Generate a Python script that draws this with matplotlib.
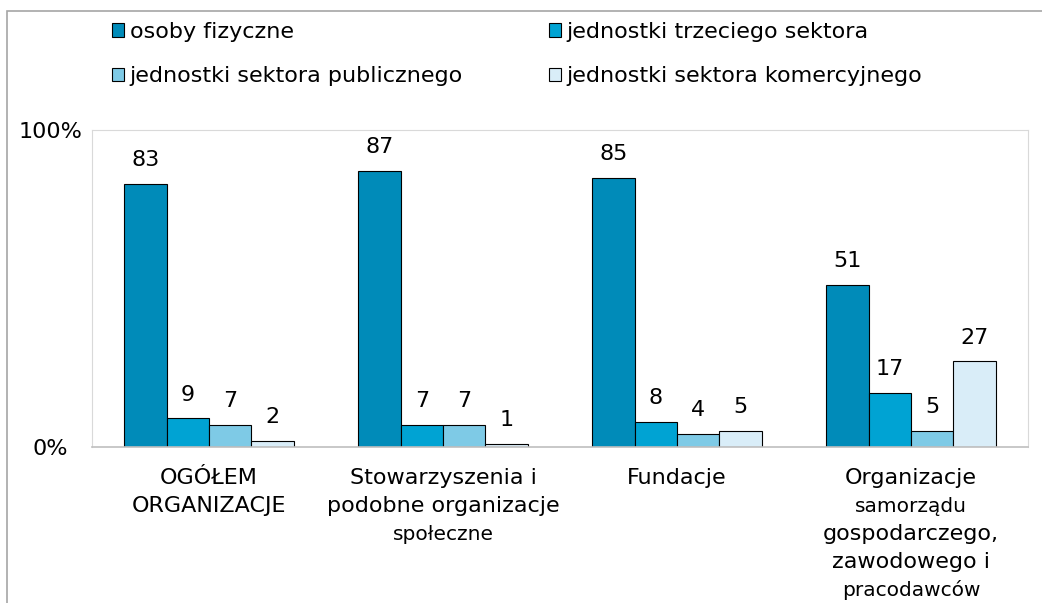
import matplotlib.pyplot as plt
import matplotlib.patches as mpatches
from matplotlib.transforms import blended_transform_factory
import numpy as np

# data
series = ["osoby fizyczne", "jednostki trzeciego sektora",
          "jednostki sektora publicznego", "jednostki sektora komercyjnego"]
osoby = [83, 87, 85, 51]
trzeci = [9, 7, 8, 17]
publiczny = [7, 7, 4, 5]
komercyjny = [2, 1, 5, 27]
values = [osoby, trzeci, publiczny, komercyjny]
colors = ["#008bb9", "#00a3d3", "#7ecae6", "#d9edf8"]

cat_lines = [["OGÓŁEM", "ORGANIZACJE"],
             ["Stowarzyszenia i", "podobne organizacje", "społeczne"],
             ["Fundacje"],
             ["Organizacje", "samorządu", "gospodarczego,", "zawodowego i", "pracodawców"]]
small_lines = {"społeczne", "samorządu", "pracodawców"}

plt.rcParams['font.family'] = ['DejaVu Sans']

fig = plt.figure(figsize=(10.42, 6.03), dpi=100)
ax = fig.add_axes([92/1042, 1 - 447/603, (1028 - 92)/1042, (447 - 130)/603])

# outer frame of the chart
frame = mpatches.Rectangle((7/1042, -0.2), 1.2, 1.2 - 11/603, transform=fig.transFigure,
                           fill=False, edgecolor="#a6a6a6", linewidth=1.2, clip_on=False)
fig.patches.append(frame)

x = np.arange(len(cat_lines))
w = 0.1815
handles = []
for i, (vals, col) in enumerate(zip(values, colors)):
    pos = x + (i - 1.5) * w
    b = ax.bar(pos, vals, width=w, color=col, edgecolor="black", linewidth=0.8, label=series[i])
    handles.append(b)
    for px, v in zip(pos, vals):
        ax.annotate(str(v), (px, v), xytext=(0, 10), textcoords="offset points",
                    ha="center", va="bottom", fontsize=16)

ax.set_xlim(-0.5, len(cat_lines) - 0.5)
ax.set_ylim(0, 100)
ax.set_yticks([0, 100])
ax.set_yticklabels(["0%", "100%"], fontsize=16)
for lab in ax.get_yticklabels():
    lab.set_horizontalalignment("center")
ax.tick_params(axis="y", length=0, pad=30)
ax.set_xticks([])
for s in ["top", "left", "right"]:
    ax.spines[s].set_color("#d9d9d9")
ax.spines["bottom"].set_color("#bfbfbf")
ax.spines["bottom"].set_linewidth(1.2)

# category labels, line by line (some lines are set smaller)
tr = blended_transform_factory(ax.transData, ax.transAxes)
for xi, lines in zip(x, cat_lines):
    off = -22.3
    for ln in lines:
        fs = 14.5 if ln in small_lines else 16
        ax.annotate(ln, (xi, 0), xycoords=tr, xytext=(0, off), textcoords="offset points",
                    ha="center", va="center", fontsize=fs, annotation_clip=False)
        off -= 20.2

order = [0, 2, 1, 3]
leg = fig.legend([handles[k] for k in order], [series[k] for k in order], ncol=2,
                 loc="upper left", bbox_to_anchor=(112/1042, 1 - 22/603), frameon=False,
                 prop={"size": 16}, handlelength=0.55, handleheight=0.55,
                 handletextpad=0.25, columnspacing=3.85, labelspacing=1.1,
                 borderaxespad=0, borderpad=0)

fig.savefig("out.png", dpi=100)
